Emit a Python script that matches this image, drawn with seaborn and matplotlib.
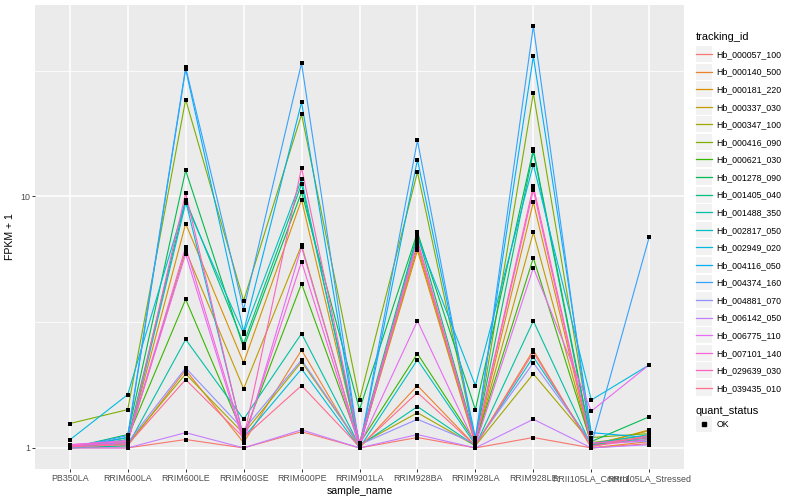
import numpy as np
import pandas as pd
import seaborn as sns
import matplotlib.pyplot as plt
from matplotlib.lines import Line2D
from matplotlib.patches import Rectangle
from matplotlib.legend_handler import HandlerLine2D
from matplotlib.ticker import FixedLocator, NullFormatter

# ---------------- veriler ----------------
samples = ['PB350LA', 'RRIM600LA', 'RRIM600LE', 'RRIM600SE', 'RRIM600PE', 'RRIM901LA',
           'RRIM928BA', 'RRIM928LA', 'RRIM928LE', 'RRII105LA_Control', 'RRII105LA_Stressed']

tracking_ids = ['Hb_000057_100', 'Hb_000140_500', 'Hb_000181_220', 'Hb_000337_030',
                'Hb_000347_100', 'Hb_000416_090', 'Hb_000621_030', 'Hb_001278_090',
                'Hb_001405_040', 'Hb_001488_350', 'Hb_002817_050', 'Hb_002949_020',
                'Hb_004116_050', 'Hb_004374_160', 'Hb_004881_070', 'Hb_006142_050',
                'Hb_006775_110', 'Hb_007101_140', 'Hb_029639_030', 'Hb_039435_010']

# ggplot hue_pal()(20)
renkler = ['#F8766D', '#EA8331', '#D89000', '#C09B00', '#A3A500', '#7CAE00', '#39B600',
           '#00BB4E', '#00BF7D', '#00C1A3', '#00BFC4', '#00BAE0', '#00B0F6', '#35A2FF',
           '#9590FF', '#C77CFF', '#E76BF3', '#FA62DB', '#FF62BC', '#FF6C91']

# FPKM + 1, her satir bir gen, sutunlar samples sirasinda
fpkm = [
    [1.00, 1.00, 1.08, 1.00, 1.16, 1.00, 1.10, 1.00, 1.10, 1.00, 1.04],
    [1.00, 1.02, 2.04, 1.05, 2.45, 1.00, 1.77, 1.02, 2.45, 1.00, 1.06],
    [1.01, 1.05, 7.8, 2.18, 9.7, 1.02, 6.1, 1.03, 9.5, 1.02, 1.18],
    [1.01, 1.06, 6.1, 1.72, 6.4, 1.02, 6.3, 1.04, 7.2, 1.03, 1.17],
    [1.02, 1.04, 1.97, 1.14, 2.2, 1.03, 1.38, 1.02, 1.97, 1.05, 1.12],
    [1.25, 1.42, 24.3, 3.85, 21.2, 1.55, 12.5, 1.06, 25.7, 1.10, 1.14],
    [1.00, 1.10, 3.9, 1.12, 4.5, 1.04, 2.37, 1.05, 5.7, 1.04, 1.10],
    [1.00, 1.13, 12.7, 2.5, 10.4, 1.42, 7.2, 1.42, 15.4, 1.06, 1.33],
    [1.00, 1.08, 9.7, 2.6, 11.2, 1.05, 7.1, 1.08, 15.1, 1.03, 1.08],
    [1.00, 1.02, 2.7, 1.30, 2.85, 1.02, 1.46, 1.02, 3.2, 1.02, 1.10],
    [1.01, 1.04, 9.4, 2.85, 11.7, 1.00, 2.24, 1.03, 2.3, 1.04, 1.13],
    [1.076, 1.63, 9.6, 1.10, 2.06, 1.00, 6.9, 1.77, 13.4, 1.55, 2.14],
    [1.00, 1.10, 32.1, 2.9, 23.7, 1.00, 14.0, 1.10, 36.1, 1.15, 1.10],
    [1.00, 1.12, 32.6, 3.55, 33.9, 1.00, 16.7, 1.04, 47.6, 1.03, 6.9],
    [1.02, 1.05, 2.08, 1.18, 2.24, 1.03, 1.30, 1.04, 2.18, 1.05, 1.06],
    [1.00, 1.00, 1.15, 1.00, 1.18, 1.00, 1.13, 1.00, 1.30, 1.00, 1.03],
    [1.03, 1.07, 5.9, 1.05, 6.3, 1.02, 3.2, 1.03, 5.2, 1.40, 2.14],
    [1.03, 1.06, 6.3, 1.08, 5.5, 1.01, 6.5, 1.05, 10.6, 1.02, 1.08],
    [1.02, 1.04, 10.3, 1.09, 13.0, 1.04, 6.7, 1.06, 11.0, 1.04, 1.10],
    [1.01, 1.03, 1.87, 1.10, 1.77, 1.01, 1.66, 1.02, 2.4, 1.01, 1.12],
]

rows = []
for tid, vals in zip(tracking_ids, fpkm):
    for s, v in zip(samples, vals):
        rows.append({'tracking_id': tid, 'sample_name': s, 'FPKM': v, 'quant_status': 'OK'})
df = pd.DataFrame(rows)
palet = dict(zip(tracking_ids, renkler))

# ---------------- cizim ----------------
plt.rcParams['font.family'] = ['Liberation Sans', 'DejaVu Sans']

fig = plt.figure(figsize=(8, 5), dpi=100)
ax = fig.add_axes([35 / 800, 1 - 469 / 500, (684 - 35) / 800, (469 - 5) / 500])
ax.set_facecolor('#EBEBEB')

sns.lineplot(data=df, x='sample_name', y='FPKM', hue='tracking_id', hue_order=tracking_ids,
             palette=palet, estimator=None, errorbar=None, sort=False, linewidth=0.8,
             legend=False, ax=ax, zorder=3)
sns.scatterplot(data=df, x='sample_name', y='FPKM', color='black', marker='s', s=8,
                linewidth=0, legend=False, ax=ax, zorder=4)

ax.set_yscale('log')
lo, hi = np.log10(df['FPKM'].min()), np.log10(df['FPKM'].max())
pad = (hi - lo) * 0.05
ax.set_ylim(10 ** (lo - pad), 10 ** (hi + pad))
ax.set_xlim(-0.6, len(samples) - 1 + 0.6)

ax.yaxis.set_major_locator(FixedLocator([1, 10]))
ax.set_yticklabels(['1', '10'])
ax.yaxis.set_minor_locator(FixedLocator([10 ** 0.5, 10 ** 1.5]))
ax.yaxis.set_minor_formatter(NullFormatter())

ax.grid(which='major', color='white', linewidth=1.1, zorder=0)
ax.grid(which='minor', axis='y', color='white', linewidth=0.55, zorder=0)
ax.set_axisbelow(True)
for sp in ax.spines.values():
    sp.set_visible(False)
ax.tick_params(which='major', length=2, width=0.7, color='#333333', labelcolor='#4D4D4D',
               labelsize=6.4, pad=1.5)
ax.tick_params(which='minor', length=0)

ax.set_xlabel('sample_name', fontsize=7.6, labelpad=2)
ax.set_ylabel('FPKM + 1', fontsize=7.6, labelpad=4)


class KeyHandler(HandlerLine2D):
    def create_artists(self, legend, orig_handle, xdescent, ydescent, width, height, fontsize, trans):
        arts = super().create_artists(legend, orig_handle, xdescent, ydescent, width, height, fontsize, trans)
        kutu = Rectangle((-xdescent, -ydescent - 3.5), width, height + 7, facecolor='#F2F2F2',
                         edgecolor='none', transform=trans)
        return [kutu] + list(arts)


tutamac = [Line2D([], [], color=c, linewidth=0.9) for c in renkler]
leg1 = fig.legend(tutamac, tracking_ids, title='tracking_id', loc='upper left',
                  bbox_to_anchor=(692 / 800, 1 - 28 / 500), frameon=False, fontsize=6.3,
                  title_fontsize=7.9, handlelength=1.9, handletextpad=0.5, labelspacing=0.98,
                  borderaxespad=0, handler_map={Line2D: KeyHandler()})
leg1._legend_box.align = 'left'

ok = Line2D([], [], color='black', marker='s', markersize=2.6, linestyle='none')
leg2 = fig.legend([ok], ['OK'], title='quant_status', loc='upper left',
                  bbox_to_anchor=(692 / 800, 1 - 402 / 500), frameon=False, fontsize=6.3,
                  title_fontsize=7.9, handlelength=1.9, handletextpad=0.5,
                  borderaxespad=0, handler_map={Line2D: KeyHandler()})
leg2._legend_box.align = 'left'

fig.savefig('out.png', dpi=100)
